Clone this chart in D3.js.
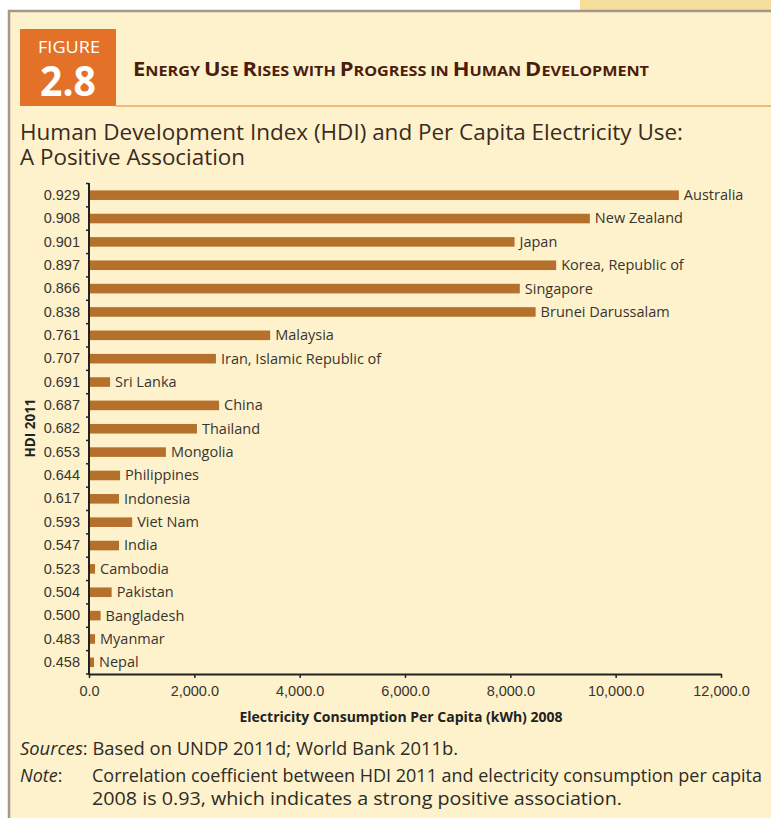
<!DOCTYPE html>
<html>
<head>
<meta charset="utf-8">
<script src="https://cdn.jsdelivr.net/npm/d3@7"></script>
<style>
  body { margin: 0; background: #fff; }
  svg { display: block; font-family: "Open Sans", "Noto Sans", sans-serif; }
</style>
</head>
<body>
<div id="chart"></div>
<script>
// chart data (top to bottom)
var countries = ["Australia", "New Zealand", "Japan", "Korea, Republic of", "Singapore",
  "Brunei Darussalam", "Malaysia", "Iran, Islamic Republic of", "Sri Lanka", "China",
  "Thailand", "Mongolia", "Philippines", "Indonesia", "Viet Nam", "India", "Cambodia",
  "Pakistan", "Bangladesh", "Myanmar", "Nepal"]
var hdi = ["0.929", "0.908", "0.901", "0.897", "0.866", "0.838", "0.761", "0.707", "0.691",
  "0.687", "0.682", "0.653", "0.644", "0.617", "0.593", "0.547", "0.523", "0.504", "0.500",
  "0.483", "0.458"]
var kwh = [11200, 9510, 8080, 8870, 8180, 8480, 3440, 2410, 400, 2470, 2050, 1460, 590,
  570, 820, 570, 115, 430, 220, 115, 95]
var xTicks = [0, 2000, 4000, 6000, 8000, 10000, 12000]

var W = 771, H = 818
var bg = "#fdf2cb", barColor = "#b5702b", ink = "#3a3430"

var svg = d3.select("#chart").append("svg")
  .attr("width", W)
  .attr("height", H)

// page frame
svg.append("rect").attr("x", 580).attr("y", 0).attr("width", W - 580).attr("height", 11).attr("fill", "#f5dd9c")
svg.append("rect").attr("x", 9).attr("y", 11).attr("width", W).attr("height", H).attr("fill", bg)
svg.append("path")
  .attr("d", "M9," + H + "V11H" + W)
  .attr("fill", "none")
  .attr("stroke", "#a8968a")
  .attr("stroke-width", 2.5)

// figure badge
svg.append("rect").attr("x", 20).attr("y", 29).attr("width", 96).attr("height", 77).attr("fill", "#e37128")
svg.append("line").attr("x1", 116).attr("x2", W).attr("y1", 106).attr("y2", 106)
  .attr("stroke", "#e8802f").attr("stroke-width", 1.2)
svg.append("text").attr("x", 69).attr("y", 52.5).attr("text-anchor", "middle")
  .attr("fill", "#fff").style("font-size", "16.5px")
  .attr("textLength", 62).attr("lengthAdjust", "spacingAndGlyphs").text("FIGURE")
svg.append("text").attr("x", 68).attr("y", 96).attr("text-anchor", "middle")
  .attr("fill", "#fff").style("font-size", "42px").style("font-weight", 700)
  .attr("textLength", 56).attr("lengthAdjust", "spacingAndGlyphs").text("2.8")

// heading in small caps
var heading = svg.append("text").attr("x", 133).attr("y", 76)
  .attr("fill", "#4b1d0e").style("font-weight", 700)
  .attr("textLength", 516).attr("lengthAdjust", "spacingAndGlyphs")
"Energy Use Rises with Progress in Human Development".split(" ").forEach(function(w, i) {
  var big = w[0] === w[0].toUpperCase()
  if (i > 0) heading.append("tspan").style("font-size", "13px").text(" ")
  if (big) heading.append("tspan").style("font-size", "19px").text(w[0])
  heading.append("tspan").style("font-size", "14px").text((big ? w.slice(1) : w).toUpperCase())
})

svg.append("text").attr("x", 20).attr("y", 140).attr("fill", "#3b2a1f")
  .style("font-size", "22px").attr("textLength", 663).attr("lengthAdjust", "spacingAndGlyphs")
  .text("Human Development Index (HDI) and Per Capita Electricity Use:")
svg.append("text").attr("x", 20).attr("y", 165).attr("fill", "#3b2a1f")
  .style("font-size", "22px").attr("textLength", 225).attr("lengthAdjust", "spacingAndGlyphs")
  .text("A Positive Association")

// scales
var x = d3.scaleLinear().domain([0, 12000]).range([89, 721])
var y = d3.scaleBand().domain(countries).range([183.5, 674]).padding(0.59).paddingOuter(0.295)
var step = y.step()

// bars
svg.selectAll(".bar")
  .data(countries)
  .join("rect")
  .attr("class", "bar")
  .attr("x", x(0))
  .attr("y", function(d) { return y(d) })
  .attr("width", function(d, i) { return x(kwh[i]) - x(0) })
  .attr("height", y.bandwidth())
  .attr("fill", barColor)

// country labels
svg.selectAll(".name")
  .data(countries)
  .join("text")
  .attr("class", "name")
  .attr("x", function(d, i) { return x(kwh[i]) + 5 })
  .attr("y", function(d) { return y(d) + y.bandwidth() / 2 })
  .attr("dy", "0.34em")
  .attr("fill", ink)
  .style("font-size", "14.5px")
  .text(function(d) { return d })

// y axis: hdi values as labels, ticks at band edges
var yAxis = svg.append("g").attr("transform", "translate(" + x(0) + ",0)")
yAxis.call(d3.axisLeft(y).tickSize(0).tickPadding(9).tickFormat(function(d, i) { return hdi[i] }))
yAxis.select(".domain").remove()
yAxis.selectAll("text").attr("fill", ink).style("font-size", "14.5px").style("font-family", "inherit")
yAxis.selectAll(".edge")
  .data(d3.range(countries.length + 1))
  .join("line")
  .attr("class", "edge")
  .attr("x1", -3).attr("x2", 0)
  .attr("y1", function(i) { return 183.5 + i * step })
  .attr("y2", function(i) { return 183.5 + i * step })
  .attr("stroke", "#222").attr("stroke-width", 1.5)
yAxis.append("line").attr("x1", 0).attr("x2", 0).attr("y1", 183).attr("y2", 675)
  .attr("stroke", "#222").attr("stroke-width", 2)

// x axis
var xAxis = svg.append("g").attr("transform", "translate(0,674)")
xAxis.call(d3.axisBottom(x).tickValues(xTicks).tickSizeInner(4).tickSizeOuter(0)
  .tickPadding(8).tickFormat(d3.format(",.1f")))
xAxis.select(".domain").attr("stroke", "#222").attr("stroke-width", 2)
xAxis.selectAll(".tick line").attr("stroke", "#222").attr("stroke-width", 1.5)
xAxis.selectAll("text").attr("fill", ink).style("font-size", "14.5px").style("font-family", "inherit")

svg.append("text").attr("x", 401).attr("y", 722).attr("text-anchor", "middle")
  .attr("fill", "#222").style("font-size", "14px").style("font-weight", 700)
  .attr("textLength", 323).attr("lengthAdjust", "spacingAndGlyphs")
  .text("Electricity Consumption Per Capita (kWh) 2008")

svg.append("text")
  .attr("transform", "translate(35,428) rotate(-90)")
  .attr("text-anchor", "middle")
  .attr("fill", "#222").style("font-size", "13.5px").style("font-weight", 700)
  .text("HDI 2011")

// source and note
var src = svg.append("text").attr("x", 20).attr("y", 755).attr("fill", "#2e2a28").style("font-size", "18px")
  .attr("textLength", 438).attr("lengthAdjust", "spacingAndGlyphs")
src.append("tspan").style("font-style", "italic").text("Sources")
src.append("tspan").text(": Based on UNDP 2011d; World Bank 2011b.")

var note = svg.append("text").attr("x", 20).attr("y", 782).attr("fill", "#2e2a28").style("font-size", "18px")
note.append("tspan").style("font-style", "italic").text("Note")
note.append("tspan").text(":")
svg.append("text").attr("x", 92).attr("y", 782).attr("fill", "#2e2a28").style("font-size", "18px")
  .attr("textLength", 670).attr("lengthAdjust", "spacingAndGlyphs")
  .text("Correlation coefficient between HDI 2011 and electricity consumption per capita")
svg.append("text").attr("x", 92).attr("y", 805).attr("fill", "#2e2a28").style("font-size", "18px")
  .attr("textLength", 530).attr("lengthAdjust", "spacingAndGlyphs")
  .text("2008 is 0.93, which indicates a strong positive association.")
</script>
</body>
</html>
